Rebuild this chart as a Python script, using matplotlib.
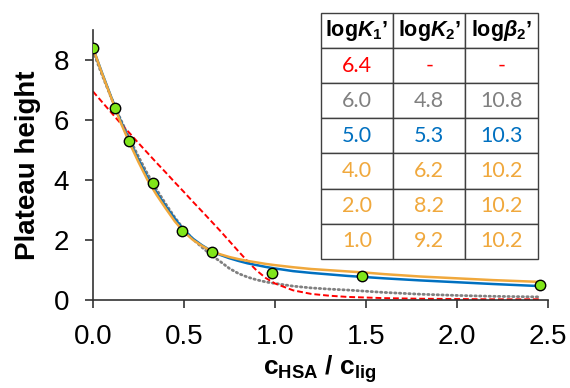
import matplotlib
matplotlib.use("Agg")
import matplotlib.pyplot as plt

plt.rcParams['font.family'] = ['Liberation Sans', 'DejaVu Sans']
plt.rcParams['mathtext.fontset'] = 'custom'
plt.rcParams['mathtext.rm'] = 'Liberation Sans'
plt.rcParams['mathtext.it'] = 'Liberation Sans:italic'
plt.rcParams['mathtext.bf'] = 'Liberation Sans:bold'
plt.rcParams['mathtext.bfit'] = 'Liberation Sans:italic:bold'

# measured points
x_pts = [0, 0.12, 0.2, 0.33, 0.49, 0.655, 0.985, 1.48, 2.46]
y_pts = [8.4, 6.4, 5.3, 3.9, 2.3, 1.6, 0.9, 0.8, 0.5]

# fitted curves
x_fit = [0, 0.05, 0.1, 0.15, 0.2, 0.25, 0.3, 0.35, 0.4, 0.45, 0.5, 0.55, 0.6, 0.66,
         0.7, 0.75, 0.8, 0.85, 0.9, 0.95, 1.0, 1.1, 1.2, 1.3, 1.4, 1.5, 1.6, 1.8,
         2.0, 2.2, 2.46]
y_orange = [8.4, 7.55, 6.75, 5.95, 5.25, 4.6, 4.0, 3.5, 3.05, 2.62, 2.27, 2.0, 1.8, 1.6,
            1.52, 1.43, 1.36, 1.3, 1.25, 1.2, 1.16, 1.09, 1.03, 0.99, 0.95, 0.91, 0.86, 0.78,
            0.72, 0.66, 0.6]
y_blue = [8.4, 7.57, 6.77, 6.0, 5.3, 4.67, 4.08, 3.57, 3.12, 2.7, 2.33, 2.04, 1.82, 1.6,
          1.5, 1.39, 1.3, 1.22, 1.16, 1.1, 1.05, 0.96, 0.9, 0.85, 0.8, 0.76, 0.72, 0.65,
          0.59, 0.53, 0.46]
y_gray = [8.3, 7.5, 6.75, 6.05, 5.4, 4.78, 4.2, 3.68, 3.2, 2.75, 2.35, 2.02, 1.75, 1.45,
          1.28, 1.05, 0.88, 0.76, 0.67, 0.6, 0.55, 0.46, 0.4, 0.36, 0.33, 0.29, 0.25, 0.19,
          0.15, 0.12, 0.1]
y_red = [6.95, 6.6, 6.25, 5.9, 5.57, 5.23, 4.9, 4.57, 4.25, 3.92, 3.6, 3.27, 2.95, 2.56,
         2.3, 1.96, 1.62, 1.29, 0.98, 0.73, 0.55, 0.32, 0.2, 0.14, 0.1, 0.08, 0.06, 0.04,
         0.03, 0.02, 0.02]

# table
col_labels = [r"$\mathbf{log}\mathbfit{K}_\mathbf{1}$’",
              r"$\mathbf{log}\mathbfit{K}_\mathbf{2}$’",
              r"$\mathbf{log}\mathbfit{\beta}_\mathbf{2}$’"]
logK1 = ["6.4", "6.0", "5.0", "4.0", "2.0", "1.0"]
logK2 = ["-", "4.8", "5.3", "6.2", "8.2", "9.2"]
logB2 = ["-", "10.8", "10.3", "10.2", "10.2", "10.2"]

RED = "#FF0000"
GRAY = "#808080"
BLUE = "#0070C0"
ORANGE = "#F0A83C"
row_colors = [RED, GRAY, BLUE, ORANGE, ORANGE, ORANGE]

fig = plt.figure(figsize=(5.7, 3.88), dpi=100)
ax = fig.add_axes([0.163, 0.227, 0.798, 0.696])

ax.plot(x_fit, y_gray, color=GRAY, lw=2, linestyle=(0, (0.5, 1.2)), dash_capstyle='round')
ax.plot(x_fit, y_red, color=RED, lw=1.4, linestyle=(0, (3, 1.5)))
ax.plot(x_fit, y_blue, color=BLUE, lw=1.8)
ax.plot(x_fit, y_orange, color=ORANGE, lw=1.8)
ax.plot(x_pts, y_pts, 'o', color='#80E61A', markeredgecolor='black',
        markeredgewidth=1.0, markersize=7.5, zorder=5)

ax.set_xlim(0, 2.5)
ax.set_ylim(0, 9)
ax.set_xticks([0, 0.5, 1.0, 1.5, 2.0, 2.5])
ax.set_xticklabels(["0.0", "0.5", "1.0", "1.5", "2.0", "2.5"])
ax.set_yticks([0, 2, 4, 6, 8])
for s in ['top', 'right']:
    ax.spines[s].set_visible(False)
for s in ['left', 'bottom']:
    ax.spines[s].set_color('#333333')
    ax.spines[s].set_linewidth(1.2)
    ax.spines[s].set_clip_on(False)
ax.tick_params(direction='out', length=6, width=1.2, color='#333333',
               labelsize=20, pad=11)
ax.set_ylabel("Plateau height", fontsize=20, fontweight='bold', labelpad=9)
ax.set_xlabel(r"$\mathbf{c}_\mathbf{HSA}$ $\mathbf{/}$ $\mathbf{c}_\mathbf{lig}$",
              fontsize=19, labelpad=3)

cell_text = [[a, b, c] for a, b, c in zip(logK1, logK2, logB2)]
tab = ax.table(cellText=cell_text, colLabels=col_labels, cellLoc='center',
               bbox=[0.501, 0.152, 0.477, 0.911])
tab.auto_set_font_size(False)
for (r, c), cell in tab.get_celld().items():
    cell.set_edgecolor('#404040')
    cell.set_linewidth(1.0)
    cell.set_facecolor('white')
    t = cell.get_text()
    if r == 0:
        t.set_fontsize(15.5)
        t.set_fontweight('bold')
        t.set_color('black')
    else:
        t.set_fontsize(15.5)
        t.set_fontfamily('Lato')
        t.set_color(row_colors[r - 1])
tab.set_zorder(10)
tab.set_clip_on(False)

fig.savefig("out.png", dpi=100)
